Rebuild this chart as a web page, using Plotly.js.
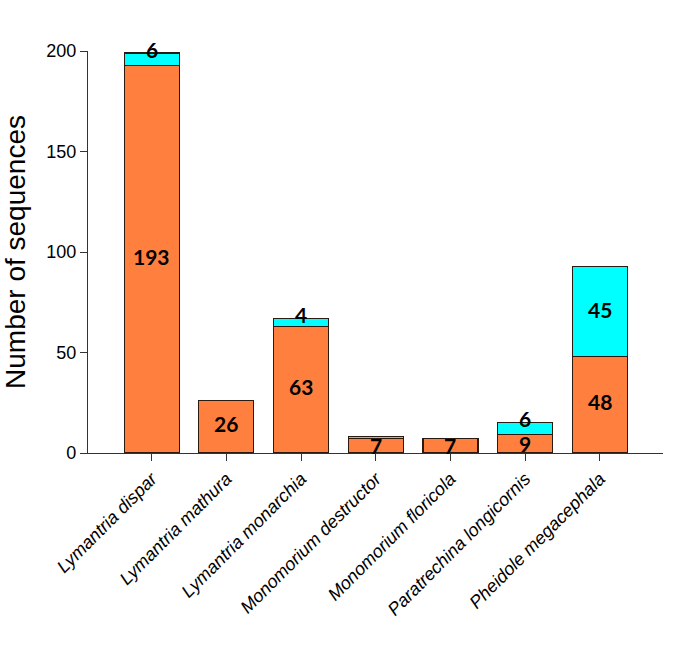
<!DOCTYPE html>
<html><head><meta charset="utf-8">
<script src="https://cdn.plot.ly/plotly-3.0.1.min.js"></script>
<style>html,body{margin:0;padding:0;background:#fff}#chart{width:693px;height:651px}</style>
</head><body><div id="chart"></div>
<script>
const species = ["Lymantria dispar","Lymantria mathura","Lymantria monarchia","Monomorium destructor","Monomorium floricola","Paratrechina longicornis","Pheidole megacephala"];
const orangeVals = [193, 26, 63, 7, 7, 9, 48];
const cyanVals = [6, 0, 4, 1, 0, 6, 45];
const orangeLabels = ["193","26","63","7","7","9","48"];
const cyanLabels = ["6","","4","","","6","45"];
const yTicks = [0, 50, 100, 150, 200];

const barLine = {color: '#2a1a10', width: 1.1};
const traces = [
  {type:'bar', x: species, y: orangeVals, marker:{color:'#FF7F3F', line: barLine}, hoverinfo:'none'},
  {type:'bar', x: species, y: cyanVals, marker:{color:'#00FFFF', line: barLine}, hoverinfo:'none'}
];

const labelFont = {family:'Lato, "Open Sans", sans-serif', size:21, color:'#000', weight:'bold'};
const annotations = [];
species.forEach((s,i)=>{
  if (orangeLabels[i]) annotations.push({x:s, y:orangeVals[i]/2, text:'<b>'+orangeLabels[i]+'</b>', showarrow:false, font:labelFont, yanchor:'middle', yshift: orangeVals[i] < 10 ? 0 : 3, borderpad:0});
  if (cyanLabels[i]) {
    const small = cyanVals[i] < 10;
    annotations.push({x:s, y: small ? orangeVals[i]+cyanVals[i] : orangeVals[i]+cyanVals[i]/2,
      text:'<b>'+cyanLabels[i]+'</b>', showarrow:false, font:labelFont, yanchor:'middle', yshift: small ? 4 : 2, borderpad:0});
  }
});

const layout = {
  width:693, height:651,
  margin:{l:88, r:30, t:51, b:198},
  barmode:'stack', bargap:0.264, showlegend:false,
  paper_bgcolor:'#fff', plot_bgcolor:'#fff',
  font:{family:'"Liberation Sans", Arial, sans-serif', color:'#000'},
  xaxis:{range:[-0.853, 6.845], showline:true, linecolor:'#333', linewidth:1.2, ticks:'outside', ticklen:7, tickcolor:'#333',
    tickangle:-45, tickfont:{size:18, style:'italic', family:'"Liberation Sans", Arial, sans-serif'}, showgrid:false, zeroline:false, fixedrange:true},
  yaxis:{range:[0,200], tickvals:yTicks, showline:true, linecolor:'#333', linewidth:1.2, ticks:'outside', ticklen:7, tickcolor:'#333',
    tickfont:{size:18}, showgrid:false, zeroline:false,
    title:{text:'Number of sequences', font:{size:28}, standoff:14}},
  annotations: annotations
};
Plotly.newPlot('chart', traces, layout, {displayModeBar:false, staticPlot:true});
</script></body></html>
